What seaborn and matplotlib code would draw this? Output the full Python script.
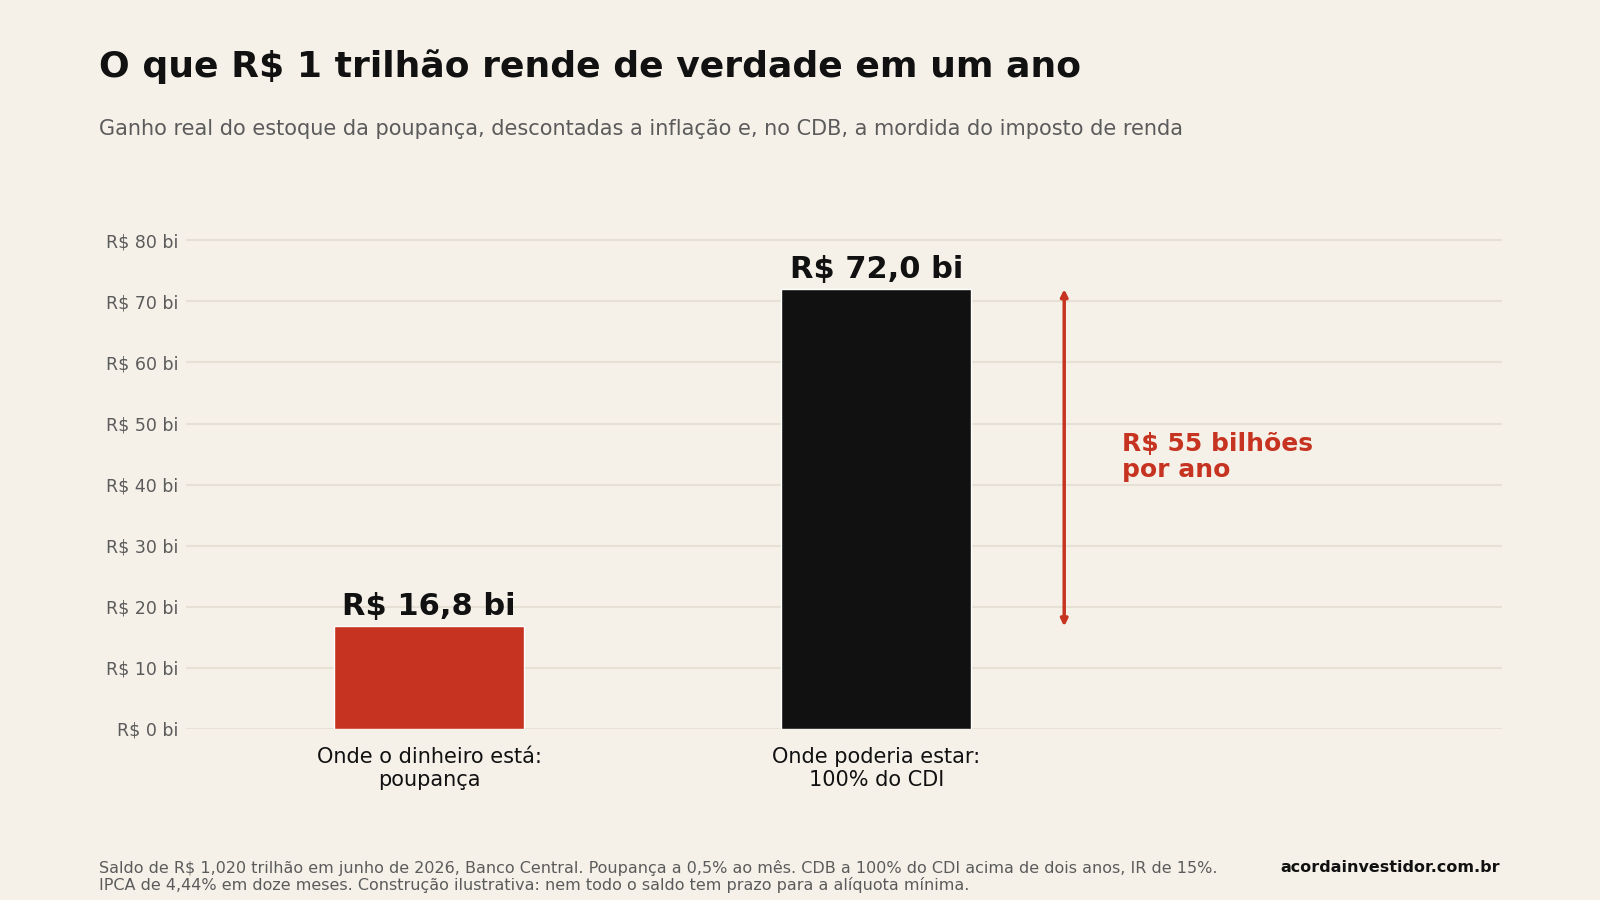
import matplotlib
matplotlib.use("Agg")
import matplotlib.pyplot as plt
import seaborn as sns
import pandas as pd

# dados
categorias = ["Onde o dinheiro está:\npoupança", "Onde poderia estar:\n100% do CDI"]
ganho_real = [16.8, 72.0]
rotulos = ["R$ 16,8 bi", "R$ 72,0 bi"]
diferenca_txt = "R$ 55 bilhões\npor ano"
yticks = [0, 10, 20, 30, 40, 50, 60, 70, 80]

BG = "#f5f1e9"
RED = "#c63320"
BLACK = "#111111"
GRID = "#e6e1d4"
GRAY = "#5b5b5b"

sns.set_theme(style="white")
plt.rcParams["font.family"] = ["DejaVu Sans"]

df = pd.DataFrame({"cat": categorias, "valor": ganho_real})

fig = plt.figure(figsize=(16, 9), dpi=100, facecolor=BG)
ax = fig.add_axes([0.116, 0.19, 0.823, 0.545])
ax.set_facecolor(BG)

sns.barplot(data=df, x="cat", y="valor", hue="cat", palette=[RED, BLACK],
            width=0.425, legend=False, ax=ax, saturation=1)

ax.set_xlim(-0.545, 2.4)
ax.set_ylim(0, 80.3)
ax.set_yticks(yticks)
ax.set_yticklabels([f"R$ {v} bi" for v in yticks], color=GRAY, fontsize=12.5)
ax.set_xticks(range(len(categorias)))
ax.set_xticklabels(categorias, linespacing=1.2, fontsize=15, color=BLACK)
ax.tick_params(axis="x", length=0, pad=13)
ax.tick_params(axis="y", length=0, pad=5)
ax.set_xlabel("")
ax.set_ylabel("")
ax.grid(axis="y", color=GRID, linewidth=1.5)
ax.set_axisbelow(True)
for s in ax.spines.values():
    s.set_visible(False)

for i, (v, t) in enumerate(zip(ganho_real, rotulos)):
    ax.text(i, v + 0.9, t, ha="center", va="bottom", fontsize=22,
            fontweight="bold", color=BLACK)

# seta da diferença
ax.annotate("", xy=(1.42, ganho_real[1]), xytext=(1.42, ganho_real[0]),
            arrowprops=dict(arrowstyle="<|-|>", color=RED, lw=2.5,
                            mutation_scale=10, shrinkA=0, shrinkB=0))
ax.text(1.55, 44.6, diferenca_txt, ha="left", va="center", fontsize=18,
        fontweight="bold", color=RED, linespacing=1.1)

fig.text(0.062, 0.926, "O que R$ 1 trilhão rende de verdade em um ano",
         fontsize=26, fontweight="bold", color=BLACK, va="center")
fig.text(0.062, 0.857,
         "Ganho real do estoque da poupança, descontadas a inflação e, no CDB, a mordida do imposto de renda",
         fontsize=15, color=GRAY, va="center")
fig.text(0.062, 0.045,
         "Saldo de R$ 1,020 trilhão em junho de 2026, Banco Central. Poupança a 0,5% ao mês. CDB a 100% do CDI acima de dois anos, IR de 15%.\n"
         "IPCA de 4,44% em doze meses. Construção ilustrativa: nem todo o saldo tem prazo para a alíquota mínima.",
         fontsize=11.5, color=GRAY, va="top", linespacing=1.1)
fig.text(0.9375, 0.045, "acordainvestidor.com.br", fontsize=11.5,
         fontweight="bold", color=BLACK, ha="right", va="top")

fig.savefig("out.png", dpi=100, facecolor=BG)
